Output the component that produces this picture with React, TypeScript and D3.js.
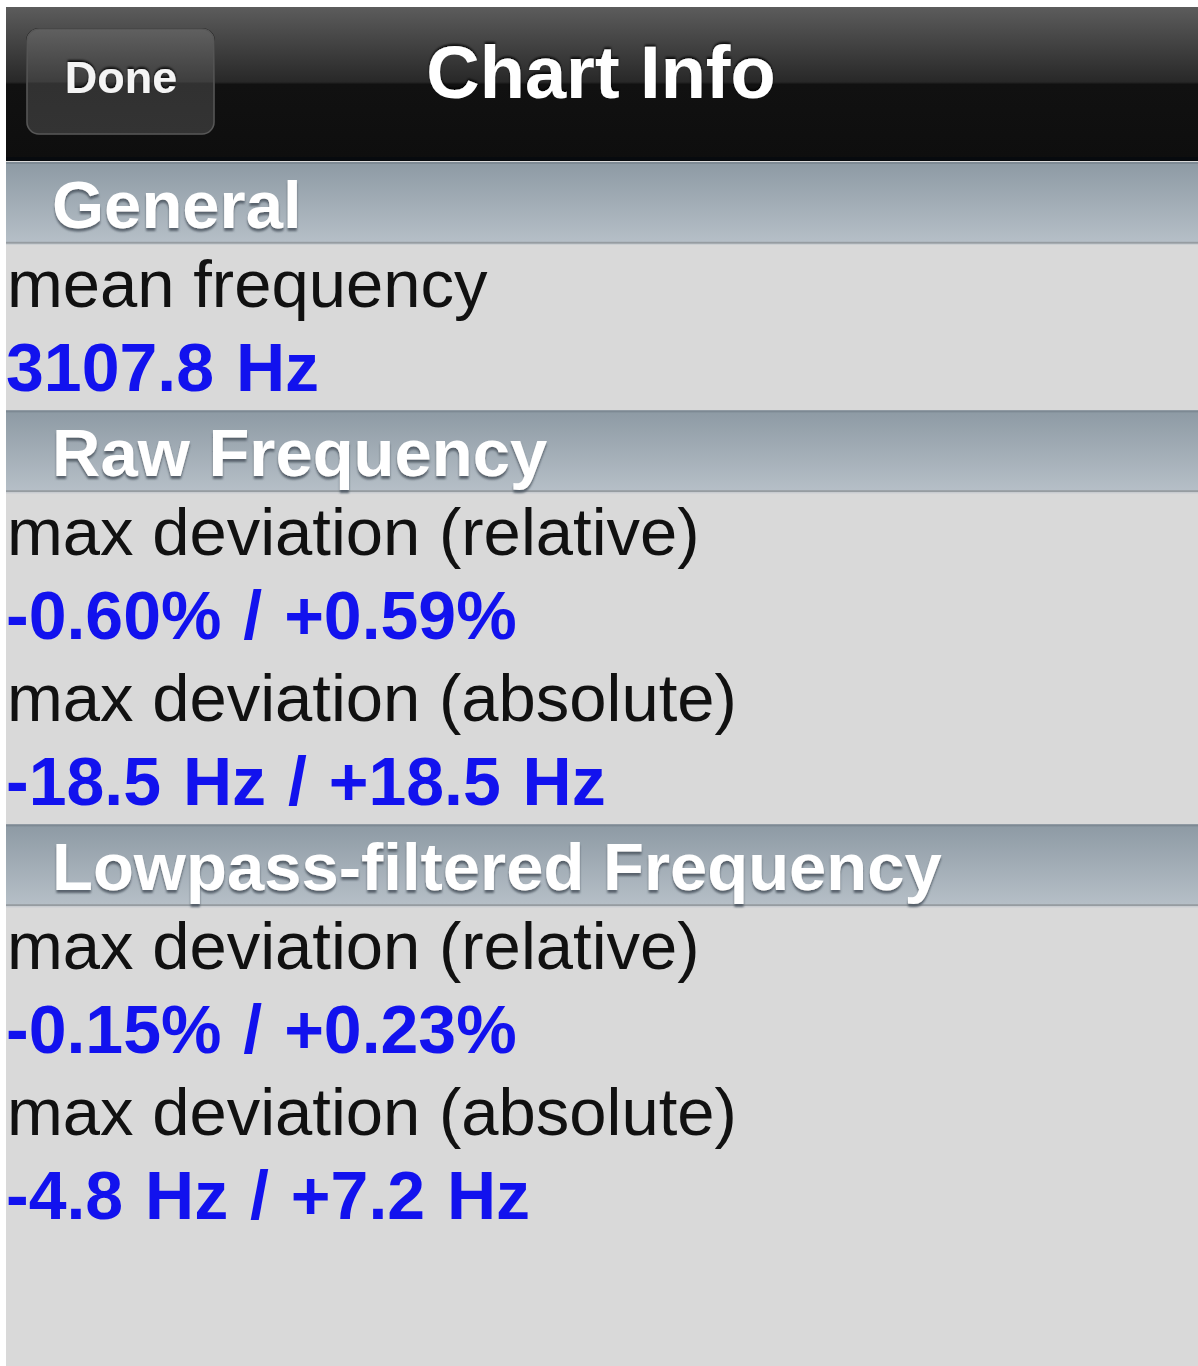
import React from "react";
import * as d3 from "d3";

const navTitle = "Chart Info";
const navButton = "Done";

const sectionTitles = ["General", "Raw Frequency", "Lowpass-filtered Frequency"];
const sectionLabels = [
  ["mean frequency"],
  ["max deviation (relative)", "max deviation (absolute)"],
  ["max deviation (relative)", "max deviation (absolute)"],
];
const sectionValues = [
  ["3107.8 Hz"],
  ["-0.60% / +0.59%", "-18.5 Hz / +18.5 Hz"],
  ["-0.15% / +0.23%", "-4.8 Hz / +7.2 Hz"],
];

const W = 1198;
const H = 1366;
const FONT = "'Liberation Sans', Arial, Helvetica, sans-serif";

type Row = { kind: "header" | "label" | "value"; text: string; index: number };

function buildRows(): Row[] {
  const rows: Row[] = [];
  let i = 0;
  sectionTitles.forEach((t, s) => {
    rows.push({ kind: "header", text: t, index: i++ });
    sectionLabels[s].forEach((l, k) => {
      rows.push({ kind: "label", text: l, index: i++ });
      rows.push({ kind: "value", text: sectionValues[s][k], index: i++ });
    });
  });
  return rows;
}

export default function App() {
  const rows = buildRows();
  const y = d3.scaleLinear().domain([0, rows.length]).range([162, 162 + 82.8 * rows.length]);
  const rowH = y(1) - y(0);

  return (
    <svg
      width={W}
      height={H}
      viewBox={`0 0 ${W} ${H}`}
      style={{ position: "absolute", left: 0, top: 0, display: "block" }}
    >
      <defs>
        <linearGradient id="nav" x1="0" y1="0" x2="0" y2="1">
          <stop offset="0" stopColor="#5c5c5c" />
          <stop offset="0.49" stopColor="#282828" />
          <stop offset="0.505" stopColor="#111111" />
          <stop offset="1" stopColor="#0e0e0e" />
        </linearGradient>
        <linearGradient id="btn" x1="0" y1="0" x2="0" y2="1">
          <stop offset="0" stopColor="#606060" />
          <stop offset="0.5" stopColor="#3e3e3e" />
          <stop offset="0.52" stopColor="#313131" />
          <stop offset="1" stopColor="#333333" />
        </linearGradient>
        <linearGradient id="hdr" x1="0" y1="0" x2="0" y2="1">
          <stop offset="0" stopColor="#8d9aa4" />
          <stop offset="1" stopColor="#b7c0c8" />
        </linearGradient>
        <filter id="hdrShadow" x="-5%" y="-20%" width="110%" height="150%">
          <feDropShadow dx="0" dy="3" stdDeviation="1" floodColor="#4f5a64" floodOpacity="0.9" />
        </filter>
        <filter id="navShadow" x="-5%" y="-20%" width="110%" height="150%">
          <feDropShadow dx="0" dy="-2" stdDeviation="0.8" floodColor="#000000" floodOpacity="0.8" />
        </filter>
      </defs>

      <rect x={0} y={0} width={W} height={H} fill="#ffffff" />
      <rect x={6} y={7} width={W - 6} height={H - 7} fill="#d9d9d9" />

      {/* nav bar */}
      <rect x={6} y={7} width={W - 6} height={153} fill="url(#nav)" />
      <rect x={6} y={157} width={W - 6} height={4} fill="#070a0e" />
      <rect x={26} y={28} width={189} height={107} rx={13} fill="#1a1a1a" />
      <rect x={27} y={29} width={187} height={105} rx={12} fill="url(#btn)" stroke="#575757" strokeWidth={1.5} />
      <text x={121} y={93} textAnchor="middle" fontFamily={FONT} fontWeight="bold" fontSize={45} fill="#f4f4f4" filter="url(#navShadow)">
        {navButton}
      </text>
      <text x={601} y={98} textAnchor="middle" fontFamily={FONT} fontWeight="bold" fontSize={74} fill="#ffffff" filter="url(#navShadow)">
        {navTitle}
      </text>

      {rows.map((r) => {
        const top = y(r.index);
        if (r.kind === "header") {
          return (
            <g key={r.index}>
              <rect x={6} y={top} width={W - 6} height={rowH} fill="url(#hdr)" />
              <rect x={6} y={top} width={W - 6} height={2} fill="#7d8993" />
              <rect x={6} y={top + rowH - 3} width={W - 6} height={2} fill="#969ca1" />
              <rect x={6} y={top + rowH - 1} width={W - 6} height={1} fill="#cfd2d4" />
              <text x={52} y={top + 66} fontFamily={FONT} fontWeight="bold" fontSize={67} fill="#ffffff" filter="url(#hdrShadow)">
                {r.text}
              </text>
            </g>
          );
        }
        if (r.kind === "label") {
          return (
            <text key={r.index} x={7} y={top + 62} fontFamily={FONT} fontSize={67} fill="#111111">
              {r.text}
            </text>
          );
        }
        return (
          <text key={r.index} x={6} y={top + 63} fontFamily={FONT} fontWeight="bold" fontSize={68} fill="#1212ee" wordSpacing={3}>
            {r.text}
          </text>
        );
      })}
    </svg>
  );
}
